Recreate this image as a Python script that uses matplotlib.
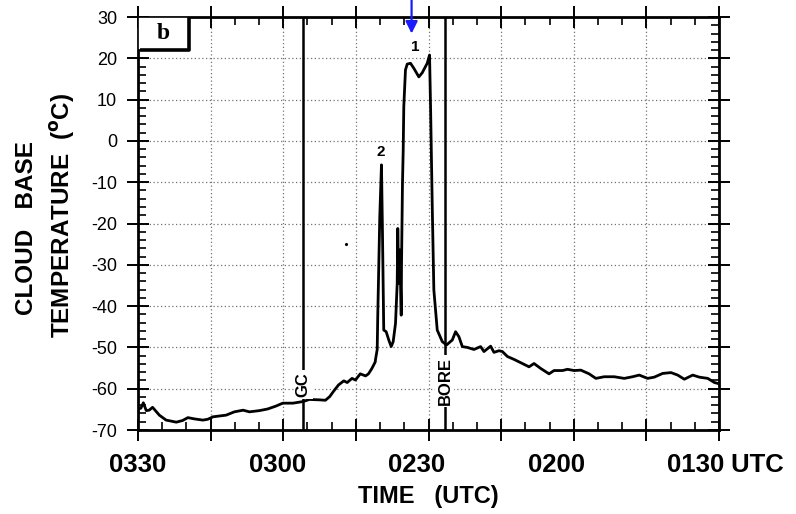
import numpy as np
import matplotlib
matplotlib.use("Agg")
import matplotlib.pyplot as plt
from matplotlib.patches import Rectangle

plt.rcParams['font.family'] = ['Liberation Sans', 'DejaVu Sans']
plt.rcParams['axes.unicode_minus'] = False

# --- Data (time in minutes after 0100 UTC, axis runs backwards) ---
time_min = [150.0, 149.4, 148.9, 148.3, 147.7, 147.0, 145.6, 144.2, 142.1, 140.8,
            139.7, 138.4, 136.6, 135.6, 134.5, 131.8, 130.1, 128.3, 127.0, 124.9,
            123.2, 121.5, 120.1, 118.0, 115.9, 114.6, 112.5, 111.3, 110.4, 109.6,
            108.6, 107.5, 106.8, 105.8, 105.1, 104.1, 103.0, 102.4, 101.7, 101.0,
            100.96, 100.6, 100.49, 100.07, 99.72, 99.51, 99.25, 98.75, 98.21, 97.71,
            97.30, 96.82, 96.47, 96.35, 96.14, 95.93, 95.64, 95.58, 95.38, 95.23,
            95.11, 94.76, 94.40, 93.72, 93.04, 92.00, 91.30, 90.27, 89.79, 89.58,
            89.23, 88.90, 88.20, 87.16, 86.27, 85.09, 84.41, 83.73, 83.02, 81.99,
            80.62, 79.24, 78.55, 77.17, 76.49, 75.45, 74.75, 73.71, 72.35, 70.96,
            69.24, 68.21, 66.82, 65.11, 64.07, 62.33, 61.30, 59.93, 58.55, 56.83,
            55.44, 53.72, 51.65, 49.58, 47.85, 46.48, 44.75, 43.38, 41.64, 39.92,
            38.54, 37.17, 35.43, 34.07, 32.33, 30.96, 30.0]
temp_c = [-65.0, -64.7, -63.4, -65.3, -65.2, -64.5, -66.4, -67.6, -68.1, -67.7,
          -67.0, -67.3, -67.6, -67.4, -66.8, -66.4, -65.6, -65.2, -65.6, -65.3,
          -64.9, -64.2, -63.5, -63.5, -63.1, -62.6, -62.7, -62.8, -61.9, -60.6,
          -59.1, -58.1, -58.5, -57.5, -57.9, -56.4, -56.9, -56.4, -55.1, -53.5,
          -53.0, -50.5, -42.6, -18.4, -5.8, -22.3, -45.8, -46.2, -48.2, -49.8,
          -48.6, -44.2, -34.5, -21.2, -34.5, -26.4, -42.2, -30.0, -10.3, -2.2,
          8.3, 17.2, 18.6, 18.8, 17.6, 15.5, 16.5, 18.8, 20.8, 8.3,
          -15.9, -36.1, -45.8, -48.6, -49.4, -48.2, -46.2, -47.4, -49.8, -50.0,
          -50.5, -49.8, -51.0, -49.7, -51.2, -50.8, -51.0, -52.2, -52.9, -53.7,
          -54.7, -53.9, -55.1, -56.4, -55.6, -55.6, -55.3, -55.6, -55.5, -56.4,
          -57.5, -57.1, -57.1, -57.5, -57.1, -56.7, -57.5, -57.2, -56.3, -56.1,
          -56.7, -57.7, -56.7, -57.2, -57.5, -58.5, -58.8]

tick_labels = ["0330", "0300", "0230", "0200", "0130"]
gc_time = 115.9
bore_time = 86.6
arrow_time = 93.5
peak1 = (92.7, 22.7)
peak2 = (99.9, -2.7)
speck = (107.0, -25.0)

# --- Figure ---
fig = plt.figure(figsize=(7.96, 5.14), dpi=100)
ax = fig.add_axes([0.1734, 0.1634, 0.7299, 0.8035])

ax.plot(time_min, temp_c, color='black', lw=2.0, zorder=3)
ax.plot(*speck, 'k.', ms=2.5)

ax.set_xlim(150, 30)
ax.set_ylim(-70, 30)

ax.set_xticks(np.arange(30, 151, 15))
ax.set_xticks(np.arange(30, 151, 5), minor=True)
ax.set_yticks(np.arange(-70, 31, 10))
ax.set_yticks(np.arange(-70, 31, 2), minor=True)
ax.tick_params(which='major', direction='inout', length=16, width=1.4,
               top=True, right=True, labelbottom=False, labelsize=13, pad=7)
ax.tick_params(which='minor', direction='in', length=6, width=1.2,
               top=True, right=True)
for s in ax.spines.values():
    s.set_linewidth(2.0)
ax.grid(which='major', linestyle=(0, (1, 2)), color='0.45', lw=0.9)

# time labels (slightly tighter spacing than ticks, as in the original figure)
for i, lab in enumerate(tick_labels):
    t = ax.text(150 - i * 28.8, -75.6, lab, ha='center', va='top',
                fontsize=18.5, fontweight='bold', clip_on=False)
ax.annotate(' UTC', xy=(1, 1), xycoords=t, ha='left', va='top',
            fontsize=18.5, fontweight='bold')
fig.text(0.5383, 0.012, 'TIME   (UTC)', ha='center', va='bottom',
         fontsize=17, fontweight='bold')

fig.text(0.0327, 0.556, 'CLOUD   BASE', rotation=90, ha='center', va='center',
         fontsize=17.5, fontweight='bold')
fig.text(0.0779, 0.580, r'TEMPERATURE  ($\mathbf{^o}$C)', rotation=90,
         ha='center', va='center', fontsize=17.5, fontweight='bold')

# event lines
for tt, lab, yy in [(gc_time, 'GC', -59.0), (bore_time, 'BORE', -58.1)]:
    ax.axvline(tt, color='black', lw=1.8, zorder=2)
    ax.text(tt, yy, lab, rotation=90, ha='center', va='center', fontsize=12,
            fontweight='bold', zorder=4,
            bbox=dict(boxstyle='square,pad=0.12', fc='white', ec='none'))

ax.text(*peak1, '1', ha='center', va='center', fontsize=11, fontweight='bold')
ax.text(*peak2, '2', ha='center', va='center', fontsize=11, fontweight='bold')

# panel label box
ax.add_patch(Rectangle((0, 0.92), 0.088, 0.08, transform=ax.transAxes,
                       fc='white', ec='black', lw=1.2, zorder=5))
ax.plot([0.004, 0.088, 0.088], [0.92, 0.92, 1.0], transform=ax.transAxes,
        color='black', lw=2.6, zorder=6, solid_capstyle='butt')
ax.text(0.044, 0.96, 'b', transform=ax.transAxes, ha='center', va='center',
        fontsize=17, fontweight='bold', family='Liberation Serif', zorder=7)

# blue arrow at the top
ax.annotate('', xy=(arrow_time, 26.0), xytext=(arrow_time, 34.3),
            arrowprops=dict(arrowstyle='-|>', color='#1a1aff', lw=1.6,
                            mutation_scale=18, shrinkA=0, shrinkB=0),
            annotation_clip=False, zorder=8)

fig.savefig('out.png', dpi=100)
